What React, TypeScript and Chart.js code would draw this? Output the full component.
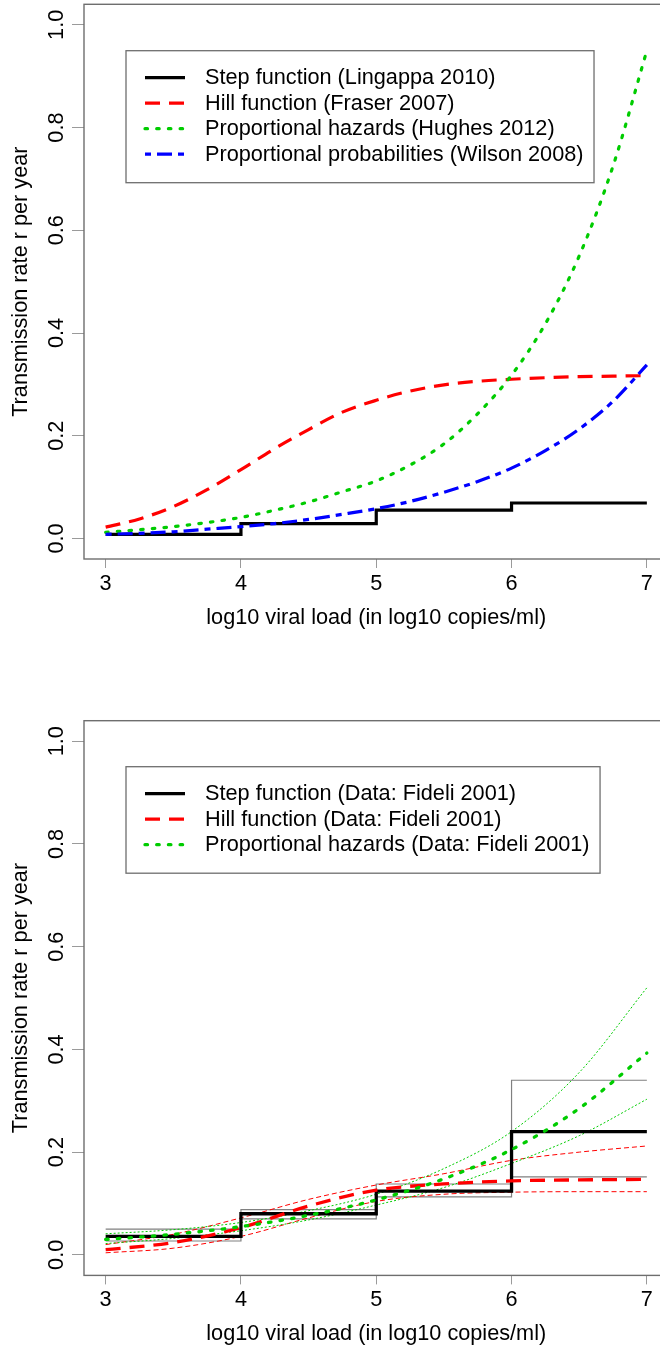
import React, { useEffect, useRef } from 'react';
import { Chart, registerables } from 'chart.js';

Chart.register(...registerables);

const FONT = "'Liberation Sans', Arial, Helvetica, sans-serif";
const FS = 21.7;

// ---------- shared axes ----------
const xTickValues = [3, 4, 5, 6, 7];
const yTickValues = [0, 0.2, 0.4, 0.6, 0.8, 1.0];
const xTitle = 'log10 viral load (in log10 copies/ml)';
const yTitle = 'Transmission rate r per year';

// ---------- top panel ----------
const stepEdges = [3, 4, 5, 6, 7];
const curveX = [3, 3.25, 3.5, 3.75, 4, 4.25, 4.5, 4.75, 5, 5.25, 5.5, 5.75, 6, 6.25, 6.5, 6.75, 7];
const lingappaStep = [0.008, 0.029, 0.055, 0.069];
const fraserHill = [0.022, 0.038, 0.062, 0.095, 0.134, 0.175, 0.212, 0.246, 0.269, 0.287, 0.299, 0.306, 0.310, 0.313, 0.315, 0.316, 0.317];
const hughesPH = [0.012, 0.017, 0.023, 0.031, 0.041, 0.055, 0.071, 0.091, 0.112, 0.143, 0.184, 0.243, 0.318, 0.418, 0.550, 0.725, 0.950];
const wilsonPP = [0.008, 0.010, 0.013, 0.018, 0.023, 0.029, 0.037, 0.047, 0.058, 0.072, 0.090, 0.111, 0.137, 0.171, 0.213, 0.267, 0.338];
const topLabels = [
  'Step function (Lingappa 2010)',
  'Hill function (Fraser 2007)',
  'Proportional hazards (Hughes 2012)',
  'Proportional probabilities (Wilson 2008)',
];

// ---------- bottom panel ----------
const fideliX = [3, 3.5, 4, 4.5, 5, 5.5, 6, 6.5, 7];
const fideliStep = [0.036, 0.080, 0.124, 0.240];
const fideliStepUpper = [0.050, 0.088, 0.138, 0.340];
const fideliStepLower = [0.027, 0.070, 0.113, 0.152];
const fideliHill = [0.010, 0.024, 0.053, 0.095, 0.126, 0.138, 0.144, 0.146, 0.147];
const fideliHillUpper = [0.020, 0.040, 0.072, 0.108, 0.136, 0.158, 0.184, 0.200, 0.212];
const fideliHillLower = [0.004, 0.013, 0.036, 0.072, 0.104, 0.118, 0.122, 0.123, 0.123];
const fideliPH = [0.030, 0.040, 0.055, 0.077, 0.107, 0.148, 0.205, 0.285, 0.393];
const fideliPHUpper = [0.041, 0.049, 0.063, 0.086, 0.118, 0.168, 0.240, 0.355, 0.520];
const fideliPHLower = [0.022, 0.032, 0.047, 0.068, 0.097, 0.131, 0.178, 0.232, 0.303];
const bottomLabels = [
  'Step function (Data: Fideli 2001)',
  'Hill function (Data: Fideli 2001)',
  'Proportional hazards (Data: Fideli 2001)',
];

// ---------- helpers ----------
const stepPts = (vals: number[]) =>
  stepEdges.map((x, i) => ({ x, y: vals[Math.min(i, vals.length - 1)] }));
const curvePts = (xs: number[], ys: number[]) => xs.map((x, i) => ({ x, y: ys[i] }));

const BLACK = '#000000';
const RED = '#ff0000';
const GREEN = '#00cc00';
const BLUE = '#0000ff';
const GREY = '#808080';

function ds(label: string, data: any[], color: string, width: number, dash: number[], cap: string, stepped: boolean, inLegend: boolean) {
  return {
    label,
    data,
    borderColor: color,
    backgroundColor: color,
    borderWidth: width,
    borderDash: dash,
    borderCapStyle: cap,
    borderJoinStyle: 'miter',
    stepped: stepped ? 'before' : false,
    tension: stepped ? 0 : 0.4,
    cubicInterpolationMode: stepped ? 'default' : 'monotone',
    pointRadius: 0,
    fill: false,
    inLegend,
  };
}

const DASH_RED = [15, 9];
const DASH_GREEN = [2.5, 9.2];
const DASH_BLUE = [6, 6, 15, 6];

const boxPlugin = {
  id: 'rBox',
  afterDraw(chart: any) {
    const { ctx, chartArea } = chart;
    ctx.save();
    ctx.strokeStyle = '#6e6e6e';
    ctx.lineWidth = 1.4;
    ctx.setLineDash([]);
    ctx.strokeRect(chartArea.left, chartArea.top, chartArea.right - chartArea.left, chartArea.bottom - chartArea.top);
    ctx.restore();
  },
};

const legendPlugin = {
  id: 'rLegend',
  afterDraw(chart: any, _args: any, opts: any) {
    const ctx = chart.ctx;
    const items = chart.data.datasets.filter((d: any) => d.inLegend);
    ctx.save();
    ctx.font = `${FS}px ${FONT}`;
    const maxW = Math.max(...items.map((d: any) => ctx.measureText(d.label).width));
    const h = opts.firstRow + (items.length - 1) * opts.rowGap + opts.lastPad;
    const w = opts.textX - opts.left + maxW + opts.rightPad;
    ctx.strokeStyle = '#6e6e6e';
    ctx.lineWidth = 1.3;
    ctx.setLineDash([]);
    ctx.strokeRect(opts.left, opts.top, w, h);
    items.forEach((d: any, i: number) => {
      const y = opts.top + opts.firstRow + i * opts.rowGap;
      ctx.beginPath();
      ctx.setLineDash(d.borderDash || []);
      ctx.lineCap = d.borderCapStyle || 'butt';
      ctx.lineWidth = d.borderWidth;
      ctx.strokeStyle = d.borderColor;
      ctx.moveTo(opts.lineX1, y);
      ctx.lineTo(opts.lineX2, y);
      ctx.stroke();
      ctx.setLineDash([]);
      ctx.fillStyle = '#000';
      ctx.textBaseline = 'middle';
      ctx.textAlign = 'left';
      ctx.fillText(d.label, opts.textX, y + 0.8);
    });
    ctx.restore();
  },
};

function makeOptions(padTop: number, padBottom: number) {
  const font = { family: FONT, size: FS };
  return {
    responsive: false,
    animation: false,
    events: [],
    layout: { padding: { top: padTop, left: 0, right: 21.5, bottom: padBottom } },
    plugins: {
      legend: { display: false },
      tooltip: { enabled: false },
      rLegend: { left: 126, top: 50.7, firstRow: 27, rowGap: 25.5, lastPad: 28.5, lineX1: 145, lineX2: 185, textX: 205, rightPad: 10.5 },
    },
    scales: {
      x: {
        type: 'linear',
        min: 2.84,
        max: 7.16,
        afterBuildTicks: (s: any) => { s.ticks = xTickValues.map((v) => ({ value: v })); },
        afterFit: (s: any) => { s.height = 75.6; s.paddingLeft = 0; s.paddingRight = 0; },
        ticks: { color: '#000', font, padding: 2.7, autoSkip: false, minRotation: 0, maxRotation: 0, callback: (v: any) => String(v) },
        grid: { drawOnChartArea: false, drawTicks: true, tickLength: 9, tickColor: '#9a9a9a', lineWidth: 1 },
        border: { display: false },
        title: { display: true, text: xTitle, color: '#000', font, padding: { top: 0, bottom: 3.5 } },
      },
      y: {
        type: 'linear',
        min: -0.04,
        max: 1.04,
        afterBuildTicks: (s: any) => { s.ticks = yTickValues.map((v) => ({ value: v })); },
        afterFit: (s: any) => { s.width = 84; s.paddingTop = 0; s.paddingBottom = 0; },
        ticks: { color: '#000', font, padding: 0, autoSkip: false, minRotation: 90, maxRotation: 90, crossAlign: 'center', callback: (v: any) => Number(v).toFixed(1) },
        grid: { drawOnChartArea: false, drawTicks: true, tickLength: 12, tickColor: '#9a9a9a', lineWidth: 1 },
        border: { display: false },
        title: { display: true, text: yTitle, color: '#000', font, padding: { top: 7.8, bottom: 0 } },
      },
    },
  };
}

function withOrder(list: any[]) {
  return list.map((d, i) => ({ ...d, order: list.length - i }));
}

function topConfig() {
  return {
    type: 'line',
    data: {
      datasets: withOrder([
        ds(topLabels[0], stepPts(lingappaStep), BLACK, 3.2, [], 'butt', true, true),
        ds(topLabels[1], curvePts(curveX, fraserHill), RED, 3.2, DASH_RED, 'butt', false, true),
        ds(topLabels[2], curvePts(curveX, hughesPH), GREEN, 3.2, DASH_GREEN, 'round', false, true),
        ds(topLabels[3], curvePts(curveX, wilsonPP), BLUE, 3.2, DASH_BLUE, 'butt', false, true),
      ]),
    },
    options: makeOptions(4.3, 81.4),
    plugins: [boxPlugin, legendPlugin],
  };
}

function bottomConfig() {
  return {
    type: 'line',
    data: {
      datasets: withOrder([
        ds('Step upper', stepPts(fideliStepUpper), GREY, 1.2, [], 'butt', true, false),
        ds('Step lower', stepPts(fideliStepLower), GREY, 1.2, [], 'butt', true, false),
        ds('Hill upper', curvePts(fideliX, fideliHillUpper), RED, 1, [5, 3], 'butt', false, false),
        ds('Hill lower', curvePts(fideliX, fideliHillLower), RED, 1, [5, 3], 'butt', false, false),
        ds('PH upper', curvePts(fideliX, fideliPHUpper), GREEN, 1, [2, 2], 'butt', false, false),
        ds('PH lower', curvePts(fideliX, fideliPHLower), GREEN, 1, [2, 2], 'butt', false, false),
        ds(bottomLabels[0], stepPts(fideliStep), BLACK, 3.3, [], 'butt', true, true),
        ds(bottomLabels[1], curvePts(fideliX, fideliHill), RED, 3.3, DASH_RED, 'butt', false, true),
        ds(bottomLabels[2], curvePts(fideliX, fideliPH), GREEN, 3.3, DASH_GREEN, 'round', false, true),
      ]),
    },
    options: makeOptions(4.7, 0),
    plugins: [boxPlugin, legendPlugin],
  };
}

function Panel({ top, height, build }: { top: number; height: number; build: () => any }) {
  const ref = useRef<HTMLCanvasElement | null>(null);
  useEffect(() => {
    if (!ref.current) return;
    const chart = new Chart(ref.current, build());
    return () => chart.destroy();
  }, []);
  return (
    <canvas
      ref={ref}
      width={690}
      height={height}
      style={{ position: 'absolute', left: 0, top, width: 690, height, display: 'block' }}
    />
  );
}

export default function App() {
  return (
    <div style={{ position: 'absolute', left: 0, top: 0, width: 660, height: 1351, overflow: 'hidden', background: '#ffffff' }}>
      <Panel top={0} height={716} build={topConfig} />
      <Panel top={716} height={635} build={bottomConfig} />
    </div>
  );
}
